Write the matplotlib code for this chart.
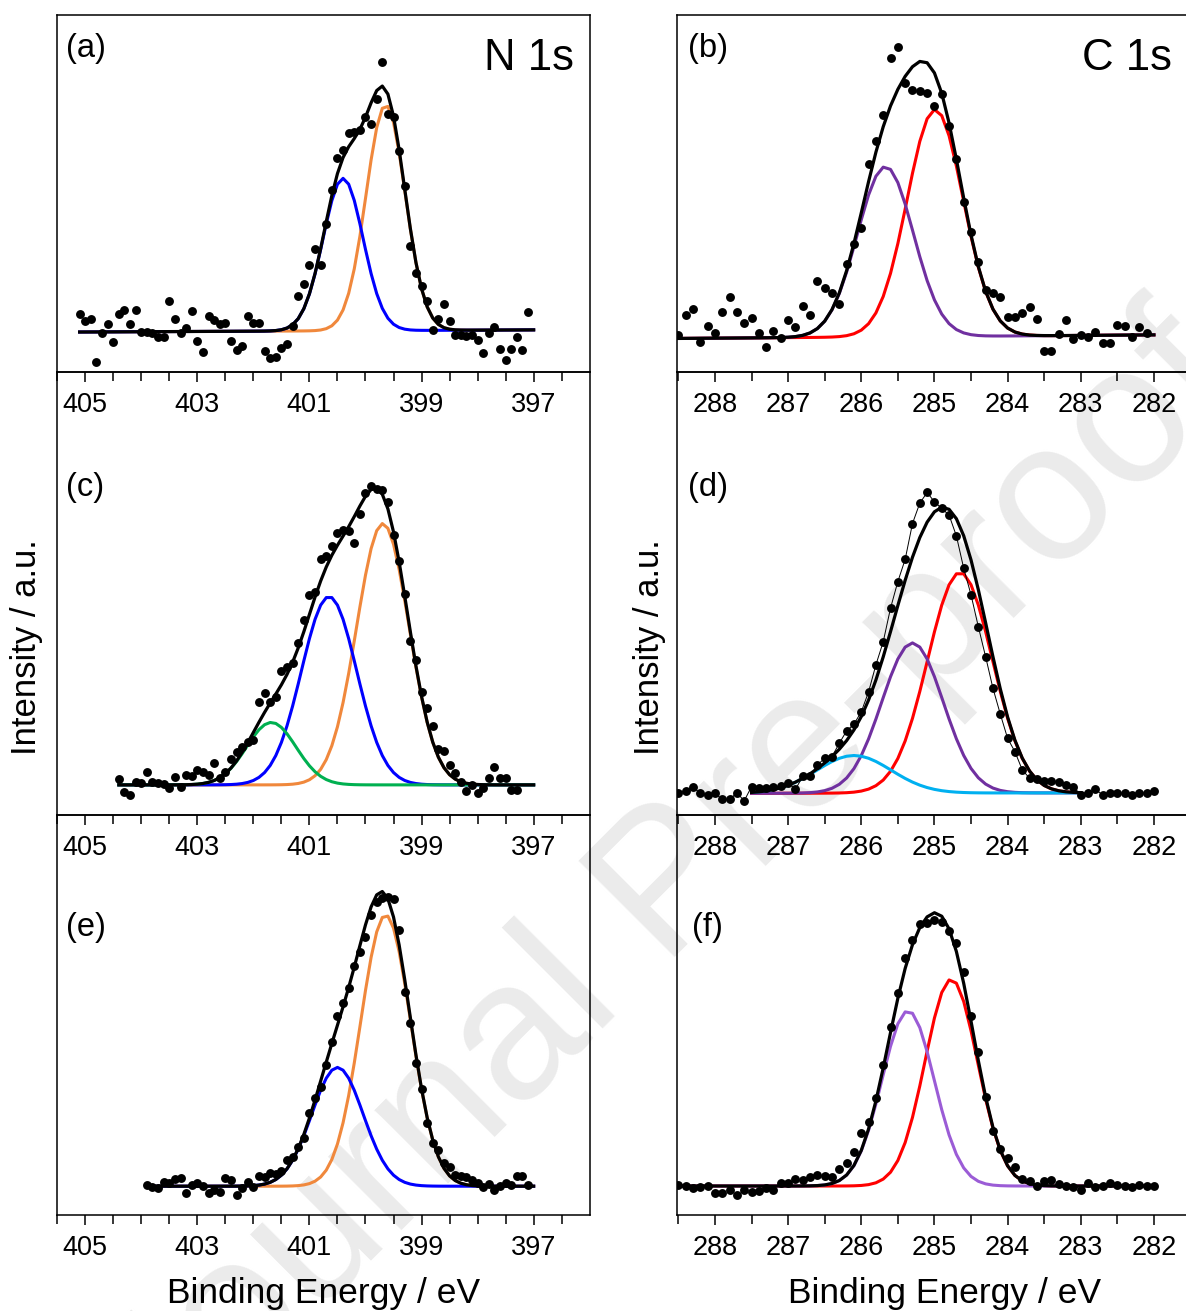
#!/usr/bin/env python3
"""
XPS N 1s / C 1s spectra of three samples with fitted components.
"""
import numpy as np
import matplotlib
matplotlib.use('Agg')
from matplotlib import pyplot as plt

plt.rcParams['font.family'] = ['Liberation Sans', 'DejaVu Sans']

ORANGE = '#F0883C'
BLUE = '#0000FF'
GREEN = '#00B050'
CYAN = '#00B0F0'
RED = '#FF0000'
PURPLE = '#7030A0'
LILAC = '#9B5CD6'

# ---- measured spectra: binding energy (eV), intensity (a.u.) ----
n1s_a_be = np.round(np.arange(405.1, 397.05, -0.1), 1)
n1s_a_int = [16.2, 14.2, 14.9, 2.7, 10.9, 13.5, 8.4, 16.2, 17.4, 13.5,
             17.4, 11.2, 11.2, 10.9, 9.8, 9.8, 19.8, 14.8, 10.9, 12.3,
             17.2, 8.6, 5.6, 15.8, 14.5, 13.5, 13.7, 8.6, 6.1, 7.2,
             15.8, 13.7, 13.7, 6.0, 3.9, 4.2, 6.7, 7.8, 12.8, 21.4,
             24.7, 29.9, 34.4, 29.9, 41.4, 51.0, 59.9, 62.2, 66.9, 67.1,
             67.8, 71.5, 69.5, 76.4, 86.7, 72.2, 71.5, 61.9, 52.0, 35.2,
             27.7, 24.0, 19.8, 11.8, 14.8, 19.0, 14.2, 10.4, 10.4, 10.0,
             10.4, 8.9, 5.3, 10.9, 12.5, 6.4, 3.5, 6.4, 9.8, 6.1,
             16.8]

c1s_b_be = np.round(np.arange(288.5, 282.05, -0.1), 1)
c1s_b_int = [10.4, 16.0, 17.6, 8.5, 13.0, 10.8, 16.9, 21.1, 16.9, 13.6,
             15.0, 10.8, 7.1, 11.5, 9.4, 14.6, 12.7, 18.5, 16.0, 25.6,
             23.4, 22.2, 19.0, 30.2, 35.8, 40.2, 58.4, 64.8, 72.0, 87.9,
             91.1, 80.9, 79.0, 78.7, 78.2, 74.5, 77.8, 68.9, 59.6, 47.5,
             39.1, 30.9, 23.0, 22.0, 21.1, 15.5, 15.3, 16.4, 18.3, 14.8,
             6.0, 6.0, 10.6, 14.6, 9.2, 10.4, 9.7, 11.3, 8.2, 8.0,
             13.2, 12.9, 9.7, 12.5, 10.8]

n1s_c_be = np.round(np.arange(404.4, 397.25, -0.1), 1)
n1s_c_int = [8.1, 5.3, 4.5, 7.5, 7.2, 9.8, 7.4, 7.2, 7.1, 6.0,
             8.5, 6.4, 9.0, 8.7, 10.2, 9.6, 9.1, 11.7, 8.3, 9.6,
             12.7, 14.2, 15.3, 16.5, 16.9, 25.4, 27.5, 25.5, 26.7, 32.6,
             33.5, 34.2, 38.8, 44.1, 49.6, 50.3, 57.9, 58.5, 60.7, 63.7,
             64.3, 64.1, 61.5, 67.9, 72.6, 74.2, 73.7, 73.3, 70.6, 63.2,
             57.3, 50.0, 39.3, 35.1, 27.8, 24.1, 20.2, 15.0, 14.4, 11.3,
             9.4, 7.5, 5.4, 6.8, 5.0, 6.0, 8.3, 10.8, 8.3, 8.3,
             5.6, 5.6]

c1s_d_be = np.round(np.arange(288.5, 281.95, -0.1), 1)
c1s_d_int = [4.9, 5.5, 6.3, 4.9, 4.5, 4.9, 3.5, 3.5, 5.0, 3.2,
             6.4, 6.2, 6.2, 6.4, 6.5, 7.3, 5.8, 8.7, 8.8, 11.3,
             12.8, 13.2, 16.2, 19.0, 20.5, 23.3, 27.8, 33.9, 39.1, 46.7,
             52.7, 57.7, 65.8, 70.4, 72.8, 70.7, 69.2, 67.7, 63.0, 55.7,
             49.7, 42.5, 35.7, 28.6, 22.8, 17.3, 14.3, 10.2, 8.3, 8.1,
             7.7, 7.7, 7.5, 6.8, 6.4, 4.5, 4.9, 5.8, 4.5, 4.9,
             4.9, 4.9, 4.5, 4.9, 5.0, 5.5]

n1s_e_be = np.round(np.arange(403.9, 397.05, -0.1), 1)
n1s_e_int = [7.5, 7.1, 6.7, 8.3, 7.9, 8.9, 9.3, 5.4, 7.5, 7.9,
             7.3, 5.4, 6.3, 5.8, 9.3, 8.8, 5.0, 6.7, 8.3, 7.1,
             9.8, 9.4, 10.4, 10.3, 11.1, 13.8, 14.6, 17.1, 19.2, 25.4,
             29.2, 32.1, 37.5, 43.2, 49.8, 53.1, 56.7, 62.3, 65.8, 69.6,
             75.0, 78.3, 79.2, 79.6, 79.0, 71.3, 55.8, 48.1, 38.1, 31.4,
             22.9, 17.9, 16.3, 12.9, 11.9, 10.0, 9.8, 9.6, 8.8, 7.9,
             7.1, 7.8, 6.3, 7.3, 7.9, 7.5, 9.8, 9.8, 7.5]

c1s_f_be = np.round(np.arange(288.5, 281.95, -0.1), 1)
c1s_f_int = [7.5, 7.25, 6.7, 6.9, 7.25, 5.6, 5.6, 6.25, 5.0, 6.25,
             5.8, 6.1, 6.7, 6.25, 7.9, 8.1, 8.9, 8.75, 9.4, 10.0,
             9.75, 9.6, 11.4, 13.1, 15.8, 20.6, 23.3, 29.2, 37.5, 46.9,
             55.6, 64.2, 68.75, 72.75, 73.1, 73.75, 73.3, 71.0, 67.9, 60.8,
             49.75, 40.8, 29.6, 21.1, 16.4, 14.2, 12.1, 8.9, 8.6, 7.25,
             8.5, 8.75, 7.75, 7.25, 7.1, 6.25, 7.9, 6.9, 7.25, 8.1,
             7.5, 7.25, 6.9, 7.4, 7.25, 7.25]

# ---- peak fits: range (eV), background at both ends, centre / height / FWHM ----
fit_a_range, fit_a_bg = (405.1, 397.0), (11.2, 11.8)
fit_a_centre = [399.64, 400.40]
fit_a_height = [63.2, 42.7]
fit_a_fwhm = [0.82, 0.84]
fit_a_colour = [ORANGE, BLUE]

fit_b_range, fit_b_bg = (288.5, 282.0), (9.4, 10.4)
fit_b_centre = [284.99, 285.67]
fit_b_height = [63.6, 47.7]
fit_b_fwhm = [0.90, 0.90]
fit_b_colour = [RED, PURPLE]

fit_c_range, fit_c_bg = (404.4, 397.0), (6.8, 6.8)
fit_c_centre = [399.69, 400.65, 401.68]
fit_c_height = [59.0, 42.5, 14.1]
fit_c_fwhm = [1.10, 1.16, 1.04]
fit_c_colour = [ORANGE, BLUE, GREEN]

fit_d_range, fit_d_bg = (287.5, 283.0), (4.9, 5.0)
fit_d_centre = [284.65, 285.30, 286.10]
fit_d_height = [49.8, 33.9, 8.5]
fit_d_fwhm = [1.04, 0.99, 1.20]
fit_d_colour = [RED, PURPLE, CYAN]

fit_e_range, fit_e_bg = (403.9, 397.0), (7.2, 7.2)
fit_e_centre = [399.64, 400.50]
fit_e_height = [67.8, 29.7]
fit_e_fwhm = [1.05, 1.08]
fit_e_colour = [ORANGE, BLUE]

fit_f_range, fit_f_bg = (288.5, 282.0), (7.25, 7.25)
fit_f_centre = [284.77, 285.36]
fit_f_height = [51.7, 43.8]
fit_f_fwhm = [0.84, 0.84]
fit_f_colour = [RED, LILAC]


def gauss(be, centre, height, fwhm):
    return height * np.exp(-4 * np.log(2) * ((be - centre) / fwhm) ** 2)


def plot_spectrum(ax, be, counts, fit_range, bg, centres, heights, fwhms,
                  colours, joined=False):
    # fit curves evaluated on the 0.1 eV acquisition grid
    grid = np.round(np.arange(fit_range[0], fit_range[1] - 0.05, -0.1), 2)
    base = np.linspace(bg[0], bg[1], len(grid))
    envelope = base.copy()
    for c, h, w, col in zip(centres, heights, fwhms, colours):
        peak = gauss(grid, c, h, w)
        ax.plot(grid, base + peak, color=col, lw=2.2, zorder=2)
        envelope += peak
    if joined:
        ax.plot(be, counts, color='k', lw=0.7, zorder=3)
    ax.plot(grid, envelope, color='k', lw=2.3, zorder=3)
    ax.plot(be, counts, 'o', color='k', ms=6.4, mec='none', zorder=4)


def style_axis(ax, xlim, major, minor):
    ax.set_facecolor('none')
    ax.set_xlim(xlim)
    ax.set_ylim(0, 100)
    ax.set_yticks([])
    ax.set_xticks(major)
    ax.set_xticklabels([str(v) for v in major])
    ax.set_xticks(minor, minor=True)
    ax.tick_params(axis='x', which='both', direction='out', width=1.1,
                   pad=7, labelsize=19.5)
    ax.tick_params(axis='x', which='major', length=7.5)
    ax.tick_params(axis='x', which='minor', length=6.5)
    for s in ax.spines.values():
        s.set_linewidth(1.1)


W, H = 1186, 1311
fig = plt.figure(figsize=(W / 100, H / 100), dpi=100)


def add_panel(left, right, top, bottom):
    return fig.add_axes([left / W, 1 - bottom / H,
                         (right - left) / W, (bottom - top) / H])


cols = [(57.2, 589.7), (676.9, 1190.5)]
rows = [(15, 372), (372, 815), (815, 1215)]

n_major = [405, 403, 401, 399, 397]
n_minor = np.arange(396.5, 405.6, 0.5)
c_major = [288, 287, 286, 285, 284, 283, 282]
c_minor = np.arange(281.5, 288.6, 0.5)

ax_a = add_panel(*cols[0], *rows[0])
ax_c = add_panel(*cols[0], *rows[1])
ax_e = add_panel(*cols[0], *rows[2])
ax_b = add_panel(*cols[1], *rows[0])
ax_d = add_panel(*cols[1], *rows[1])
ax_f = add_panel(*cols[1], *rows[2])

plot_spectrum(ax_a, n1s_a_be, n1s_a_int, fit_a_range, fit_a_bg,
              fit_a_centre, fit_a_height, fit_a_fwhm, fit_a_colour)
plot_spectrum(ax_b, c1s_b_be, c1s_b_int, fit_b_range, fit_b_bg,
              fit_b_centre, fit_b_height, fit_b_fwhm, fit_b_colour)
plot_spectrum(ax_c, n1s_c_be, n1s_c_int, fit_c_range, fit_c_bg,
              fit_c_centre, fit_c_height, fit_c_fwhm, fit_c_colour)
plot_spectrum(ax_d, c1s_d_be, c1s_d_int, fit_d_range, fit_d_bg,
              fit_d_centre, fit_d_height, fit_d_fwhm, fit_d_colour, joined=True)
plot_spectrum(ax_e, n1s_e_be, n1s_e_int, fit_e_range, fit_e_bg,
              fit_e_centre, fit_e_height, fit_e_fwhm, fit_e_colour)
plot_spectrum(ax_f, c1s_f_be, c1s_f_int, fit_f_range, fit_f_bg,
              fit_f_centre, fit_f_height, fit_f_fwhm, fit_f_colour)

for ax in (ax_a, ax_c, ax_e):
    style_axis(ax, (405.5, 396.0), n_major, n_minor)
for ax in (ax_b, ax_d, ax_f):
    style_axis(ax, (288.52, 281.5), c_major, c_minor)


def fig_text(x, y, s, **kw):
    return fig.text(x / W, 1 - y / H, s, **kw)


# panel letters and core-level names
for (x, y), s in zip([(66, 57), (66, 496), (66, 936),
                      (688, 57), (688, 496), (692, 936)],
                     ['(a)', '(c)', '(e)', '(b)', '(d)', '(f)']):
    fig_text(x, y, s, fontsize=23.5, va='baseline', ha='left')
fig_text(574, 70, 'N 1s', fontsize=31.5, va='baseline', ha='right')
fig_text(1172, 70, 'C 1s', fontsize=31.5, va='baseline', ha='right')

for x in (27, 650):
    fig_text(x, 647, 'Intensity / a.u.', fontsize=25, rotation=90,
             ha='center', va='center')
for x in (324, 945):
    fig_text(x, 1303, 'Binding Energy / eV', fontsize=25.5,
             ha='center', va='baseline')

# faint diagonal watermark behind the panels
fig_text(705, 855, 'Journal Pre-proofs', fontsize=142, rotation=45,
         color='#EBEBEB', ha='center', va='center', zorder=-1)

fig.savefig('out.png', dpi=100)
